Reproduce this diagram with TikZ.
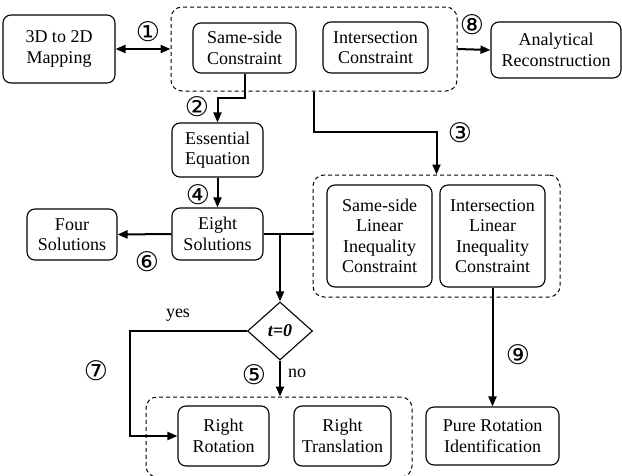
\documentclass[tikz,border=0pt]{standalone}
\usepackage{fontspec}
\setmainfont{Liberation Serif}
\newfontfamily\circfont{DejaVu Sans}
\usetikzlibrary{shapes.geometric,arrows.meta}
\begin{document}
\begin{tikzpicture}[x=1pt,y=-1pt,
  every node/.style={font=\rmfamily\fontsize{18}{20.5}\selectfont},
  box/.style={draw,rounded corners=8pt,line width=1.1pt,align=center,inner sep=0pt},
  group/.style={draw,dashed,dash pattern=on 4pt off 3pt,rounded corners=11pt,line width=1pt,inner sep=0pt},
  conn/.style={line width=2pt},
  arr/.style={conn,-{Triangle[length=10pt,width=8pt]}},
  circnum/.style={font=\circfont\fontsize{27}{27}\selectfont,inner sep=0pt},
  lbl/.style={inner sep=0pt}]
\useasboundingbox (0,0) rectangle (622,475);
% boxes
\node[box,minimum width=112pt,minimum height=68pt] (map) at (59,49) {3D to 2D\\Mapping};
\node[box,minimum width=103pt,minimum height=50pt] (same) at (244.5,48) {Same-side\\Constraint};
\node[box,minimum width=105pt,minimum height=51pt] (inter) at (375.5,47.5) {Intersection\\Constraint};
\node[box,minimum width=130pt,minimum height=56pt] (anal) at (556,50) {Analytical\\Reconstruction};
\node[box,minimum width=91pt,minimum height=54pt] (ess) at (217.5,150) {Essential\\Equation};
\node[box,minimum width=91pt,minimum height=52pt] (eight) at (217.5,234) {Eight\\Solutions};
\node[box,minimum width=90pt,minimum height=51pt] (four) at (72,234.5) {Four\\Solutions};
\node[box,minimum width=105pt,minimum height=102pt] (sslic) at (379.5,236) {Same-side\\Linear\\Inequality\\Constraint};
\node[box,minimum width=105pt,minimum height=102pt] (ilic) at (492.5,236) {Intersection\\Linear\\Inequality\\Constraint};
\node[box,minimum width=133pt,minimum height=58pt] (pure) at (492.5,436) {Pure Rotation\\Identification};
\node[draw,diamond,line width=1.1pt,inner sep=0pt,minimum width=65pt,minimum height=58pt] (dia) at (280,331) {\textbf{\textit{t=0}}};
\node[box,minimum width=91pt,minimum height=60pt] (rrot) at (223.5,436) {Right\\Rotation};
\node[box,minimum width=97pt,minimum height=60pt] (rtrans) at (342.5,436) {Right\\Translation};
\node[lbl] (yes) at (178,315) {yes};
\node[lbl] (no) at (297,373) {no};
% groups
\node[group,minimum width=286pt,minimum height=84pt] (top) at (314,49) {};
\node[group,minimum width=247pt,minimum height=122pt] (c2) at (436.5,236) {};
\node[group,minimum width=266pt,minimum height=80pt] (c3) at (279,437) {};
% helper coordinates
\coordinate (k2) at (0,98);
\coordinate (k3) at (0,132);
\coordinate (k7) at (130,0);
% connectors
\draw[conn,{Triangle[length=10pt,width=8pt]}-{Triangle[length=10pt,width=8pt]}] (map.east) -- (top.west);
\draw[arr] (top.east) -- (anal.west);
\draw[arr] (same.south) -- (same.south |- k2) -| (ess.north);
\draw[arr] (top.south) -- (top.south |- k3) -| (c2.north);
\draw[arr] (ess.south) -- (eight.north);
\draw[arr] (eight.west) -- (four.east);
\draw[conn] (eight.east) -- (eight.east -| c2.west);
\draw[arr] (dia.north |- eight.east) -- (dia.north);
\draw[arr] (dia.west) -- (dia.west -| k7) |- (rrot.west);
\draw[arr] (dia.south) -- (dia.south |- c3.north);
\draw[arr] (ilic.south) -- (pure.north);
% circled step numbers
\node[circnum] (n1) at (148,32) {①};
\node[circnum] (n2) at (197,107) {②};
\node[circnum] (n3) at (460,133) {③};
\node[circnum] (n4) at (198,195) {④};
\node[circnum] (n5) at (254,375) {⑤};
\node[circnum] (n6) at (147,262) {⑥};
\node[circnum] (n7) at (96,371) {⑦};
\node[circnum] (n8) at (472,25) {⑧};
\node[circnum] (n9) at (518,355) {⑨};
\end{tikzpicture}
\end{document}
